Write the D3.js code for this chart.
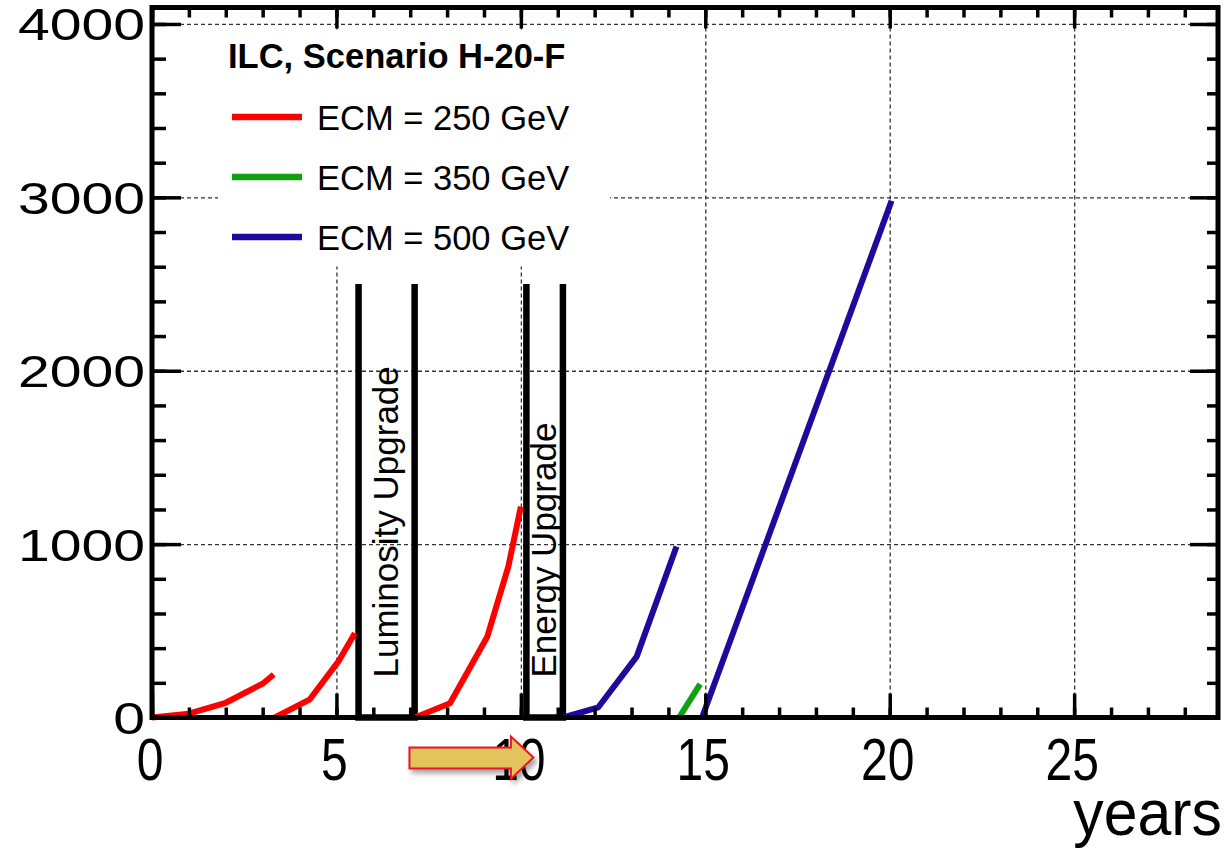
<!DOCTYPE html>
<html>
<head>
<meta charset="utf-8">
<script src="https://cdn.jsdelivr.net/npm/d3@7"></script>
<style>
  body { margin: 0; background: #fff; }
  text { font-family: "Liberation Sans", Arial, Helvetica, sans-serif; fill: #000; }
  .grid line { stroke: #333; stroke-width: 1.3; stroke-dasharray: 4,3; }
  .grid path { display: none; }
  .ticks line { stroke: #000; stroke-width: 3.5; }
  .ticks path { display: none; }
</style>
</head>
<body>
<div id="chart"></div>
<script>
// ---- data ----
var red1 = [[0, 0], [1, 22], [2, 85], [3, 195], [3.3, 248]];
var red2 = [[3.33, 0], [4.28, 105], [5.05, 322], [5.5, 486]];
var red3 = [[7.13, 0], [8.08, 82], [9.09, 466], [9.66, 870], [10.0, 1216]];
var green1 = [[14.29, 0], [14.86, 193]];
var blue1 = [[11.15, 0], [12.1, 59], [13.14, 351], [14.22, 986]];
var blue2 = [[14.93, 10], [20.05, 2980]];

var legendTitle = "ILC, Scenario H-20-F";
var legendNames = ["ECM = 250 GeV", "ECM = 350 GeV", "ECM = 500 GeV"];
var legendColors = ["#ff0000", "#10a010", "#1e0a9c"];

var upgradeFrom = [5.6, 10.15];
var upgradeTo = [7.12, 11.14];
var upgradeNames = ["Luminosity Upgrade", "Energy Upgrade"];
var upgradeTop = 2500;

var xTickLabels = [0, 5, 10, 15, 20, 25];
var yTickLabels = [0, 1000, 2000, 3000, 4000];
var xLabel = "years";

var arrowFrom = 6.98, arrowHead = 9.73, arrowTo = 10.34;

(function() {
  var margin = { top: 7.5, left: 152, right: 9, bottom: 132.5 },
    width = 1227 - margin.left - margin.right,
    height = 850 - margin.top - margin.bottom;

  var root = d3.select("#chart")
    .append("svg")
    .attr("width", 1227)
    .attr("height", 850);

  var svg = root.append("g")
    .attr("transform", "translate(" + margin.left + "," + margin.top + ")");

  var x = d3.scaleLinear().domain([0, 28.9]).range([0, width]);
  var y = d3.scaleLinear().domain([0, 4095]).range([height, 0]);

  // drop shadow for the arrow
  var defs = root.append("defs");
  var f = defs.append("filter").attr("id", "shadow")
    .attr("x", "-20%").attr("y", "-30%").attr("width", "150%").attr("height", "180%");
  f.append("feDropShadow").attr("dx", 3).attr("dy", 4).attr("stdDeviation", 2.5)
    .attr("flood-color", "#000").attr("flood-opacity", 0.35);

  // gridlines
  svg.append("g")
    .attr("class", "grid")
    .attr("transform", "translate(0," + height + ")")
    .call(d3.axisBottom(x).tickValues([5, 10, 15, 20, 25]).tickSize(-height).tickFormat(""));

  svg.append("g")
    .attr("class", "grid")
    .call(d3.axisLeft(y).tickValues([1000, 2000, 3000, 4000]).tickSize(-width).tickFormat(""));

  // legend box (hides grid under it)
  svg.append("rect")
    .attr("x", 66).attr("y", 22)
    .attr("width", 392).attr("height", 237)
    .attr("fill", "#fff");

  svg.append("text")
    .attr("x", 76).attr("y", 60.5)
    .style("font-size", "34.5px")
    .style("font-weight", "bold")
    .text(legendTitle);

  legendNames.forEach(function(name, i) {
    svg.append("line")
      .attr("x1", 80).attr("x2", 150)
      .attr("y1", 109.5 + i * 60).attr("y2", 109.5 + i * 60)
      .attr("stroke", legendColors[i])
      .attr("stroke-width", 6.5);
    svg.append("text")
      .attr("x", 165).attr("y", 122.5 + i * 60)
      .style("font-size", "34.5px")
      .text(name);
  });

  // upgrade boxes
  upgradeNames.forEach(function(name, i) {
    var pts = [[upgradeFrom[i], upgradeTop], [upgradeFrom[i], 0], [upgradeTo[i], 0], [upgradeTo[i], upgradeTop]];
    svg.append("path")
      .attr("d", d3.line().x(function(d) { return x(d[0]); }).y(function(d) { return y(d[1]); })(pts))
      .attr("fill", "none")
      .attr("stroke", "#000")
      .attr("stroke-width", 6.5);

    var cx = x((upgradeFrom[i] + upgradeTo[i]) / 2) + 11.5;
    svg.append("text")
      .attr("transform", "translate(" + cx + "," + (height - 40) + ") rotate(-90)")
      .style("font-size", "35px")
      .text(name);
  });

  // data lines
  var line = d3.line()
    .x(function(d) { return x(d[0]); })
    .y(function(d) { return y(d[1]); });

  var series = [
    { pts: red1, color: legendColors[0] },
    { pts: red2, color: legendColors[0] },
    { pts: red3, color: legendColors[0] },
    { pts: blue1, color: legendColors[2] },
    { pts: green1, color: legendColors[1] },
    { pts: blue2, color: legendColors[2] }
  ];

  svg.selectAll(".series")
    .data(series)
    .enter().append("path")
    .attr("class", "series")
    .attr("d", function(d) { return line(d.pts); })
    .attr("fill", "none")
    .attr("stroke", function(d) { return d.color; })
    .attr("stroke-width", 6)
    .attr("stroke-linejoin", "round");

  // tick marks on all four sides, pointing inward
  var xMinor = d3.range(0, 29), xMajor = [0, 5, 10, 15, 20, 25];
  var yMinor = d3.range(0, 4001, 200), yMajor = [0, 1000, 2000, 3000, 4000];

  svg.append("g").attr("class", "ticks").attr("transform", "translate(0," + height + ")")
    .call(d3.axisBottom(x).tickValues(xMinor).tickSize(-10).tickFormat(""));
  svg.append("g").attr("class", "ticks").attr("transform", "translate(0," + height + ")")
    .call(d3.axisBottom(x).tickValues(xMajor).tickSize(-24).tickFormat(""));
  svg.append("g").attr("class", "ticks")
    .call(d3.axisTop(x).tickValues(xMinor).tickSize(-10).tickFormat(""));
  svg.append("g").attr("class", "ticks")
    .call(d3.axisTop(x).tickValues(xMajor).tickSize(-21).tickFormat(""));
  svg.append("g").attr("class", "ticks")
    .call(d3.axisLeft(y).tickValues(yMinor).tickSize(-14).tickFormat(""));
  svg.append("g").attr("class", "ticks")
    .call(d3.axisLeft(y).tickValues(yMajor).tickSize(-29).tickFormat(""));
  svg.append("g").attr("class", "ticks").attr("transform", "translate(" + width + ",0)")
    .call(d3.axisRight(y).tickValues(yMinor).tickSize(-11).tickFormat(""));
  svg.append("g").attr("class", "ticks").attr("transform", "translate(" + width + ",0)")
    .call(d3.axisRight(y).tickValues(yMajor).tickSize(-28).tickFormat(""));

  // frame
  svg.append("rect")
    .attr("x", 0).attr("y", 0)
    .attr("width", width).attr("height", height)
    .attr("fill", "none")
    .attr("stroke", "#000")
    .attr("stroke-width", 5);

  // tick labels
  svg.selectAll(".ylab")
    .data(yTickLabels)
    .enter().append("text")
    .attr("class", "ylab")
    .attr("transform", function(d) { return "translate(-7," + (y(d) + 16.5) + ") scale(1.27,1)"; })
    .attr("text-anchor", "end")
    .style("font-size", "45px")
    .text(function(d) { return d; });

  svg.selectAll(".xlab")
    .data(xTickLabels)
    .enter().append("text")
    .attr("class", "xlab")
    .attr("transform", function(d) { return "translate(" + (x(d) - 2) + "," + (height + 62.5) + ") scale(0.8,1)"; })
    .attr("text-anchor", "middle")
    .style("font-size", "60px")
    .text(function(d) { return d; });

  svg.append("text")
    .attr("transform", "translate(" + (width + 4) + "," + (height + 117.5) + ") scale(0.95,1)")
    .attr("text-anchor", "end")
    .style("font-size", "64px")
    .text(xLabel);

  // annotation arrow under the axis
  var x0 = x(arrowFrom), xh = x(arrowHead), xt = x(arrowTo);
  var arrowPts = [[x0, height + 30], [xh, height + 30], [xh, height + 19], [xt, height + 40],
                  [xh, height + 61.5], [xh, height + 51], [x0, height + 51]];
  svg.append("polygon")
    .attr("points", arrowPts.map(function(p) { return p.join(","); }).join(" "))
    .attr("fill", "#e2c35b")
    .attr("stroke", "#e8152a")
    .attr("stroke-width", 2)
    .attr("filter", "url(#shadow)");
})();
</script>
</body>
</html>
